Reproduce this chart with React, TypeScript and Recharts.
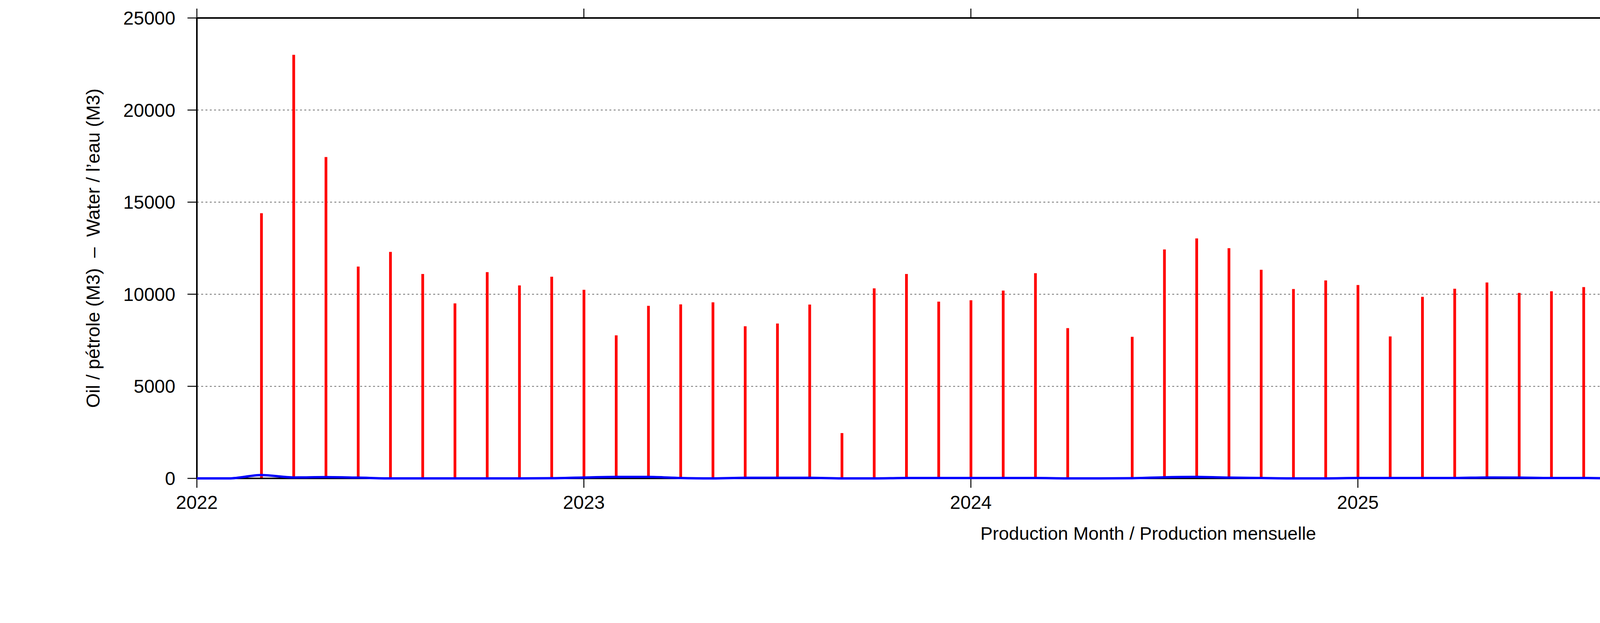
import React from "react";
import { ComposedChart, Bar, Line, XAxis, YAxis, CartesianGrid, Legend, Label } from "recharts";

// months counted from Jan 2022 (0) to Dec 2026 (59)
const monthIndex = Array.from({ length: 60 }, (_, i) => i);

// monthly oil production (M3), null = no production that month
const oilM3 = [
  null, null, 14400, 23000, 17450, 11500, 12300, 11100, 9500, 11200, 10480, 10950,
  10240, 7770, 9370, 9450, 9560, 8260, 8410, 9440, 2460, 10320, 11100, 9600,
  9670, 10200, 11140, 8160, null, 7690, 12430, 13030, 12500, 11330, 10280, 10750,
  10500, 7710, 9860, 10300, 10640, 10070, 10160, 10390, 10370, 8930, 8510, 6540,
  7220, 7670, 8510, 7770, 7050, 6500, null, null, null, null, null, null,
];

// monthly water production (M3)
const waterM3 = [
  0, 0, 180, 50, 70, 40, 0, 0, 0, 0, 0, 10,
  50, 80, 80, 20, 0, 30, 30, 30, 0, 0, 20, 20,
  20, 20, 20, 0, 0, 10, 60, 80, 40, 20, 0, 0,
  20, 20, 20, 20, 50, 40, 20, 20, 0, 0, 0, 0,
  20, 60, 50, 20, 20, 20, 0, 0, 0, 0, 0, 0,
];

const yearTicks = [0, 12, 24, 36, 48];
const yearLabels = ["2022", "2023", "2024", "2025", "2026"];
const yTicks = [0, 5000, 10000, 15000, 20000, 25000];

const legendItems = [
  { label: "oil / pétrole", color: "#ff0000" },
  { label: "water / l’eau", color: "#0000ff" },
];

const FONT = "'Liberation Sans', Arial, Helvetica, sans-serif";
const W = 5483;
const H = 1594;

const data = monthIndex.map((m, i) => ({ m, oil: oilM3[i], water: waterM3[i] }));

const LegendBox = () => (
  <div style={{ display: "flex", flexDirection: "column", alignItems: "flex-end", fontFamily: FONT, fontSize: 46, color: "#000" }}>
    {legendItems.map((it) => (
      <div key={it.label} style={{ display: "flex", alignItems: "center", height: 46, lineHeight: "46px" }}>
        <span>{it.label}</span>
        <span style={{ display: "inline-block", width: 137, height: 6, background: it.color, marginLeft: 29 }} />
      </div>
    ))}
  </div>
);

const App = () => {
  return (
    <div style={{ position: "absolute", left: 0, top: 0, background: "#fff" }}>
      <ComposedChart width={W} height={H} data={data} margin={{ top: 45, right: 0, bottom: 0, left: 0 }} style={{ fontFamily: FONT }}>
        <CartesianGrid vertical={false} stroke="#444" strokeWidth={1.5} strokeDasharray="5 6" />
        <XAxis
          dataKey="m"
          type="number"
          domain={[0, 59]}
          ticks={yearTicks}
          interval={0}
          allowDataOverflow
          tickFormatter={(v) => yearLabels[yearTicks.indexOf(v)]}
          height={370}
          tickSize={24}
          tickMargin={20}
          axisLine={{ stroke: "#000", strokeWidth: 4 }}
          tickLine={{ stroke: "#000", strokeWidth: 2.5 }}
          tick={{ fill: "#000", fontSize: 48, fontFamily: FONT }}
        >
          <Label
            content={({ viewBox }: any) => (
              <text x={viewBox.x + viewBox.width / 2} y={viewBox.y + 140} textAnchor="middle" dominantBaseline="central" fontSize={47} fontFamily={FONT} fill="#000">
                Production Month / Production mensuelle
              </text>
            )}
          />
        </XAxis>
        <XAxis
          xAxisId="top"
          orientation="top"
          type="number"
          dataKey="m"
          domain={[0, 59]}
          ticks={yearTicks}
          interval={0}
          allowDataOverflow
          height={1}
          tickFormatter={() => ""}
          tickSize={24}
          axisLine={{ stroke: "#000", strokeWidth: 4 }}
          tickLine={{ stroke: "#000", strokeWidth: 2.5 }}
        />
        <YAxis
          type="number"
          domain={[0, 25000]}
          ticks={yTicks}
          interval={0}
          width={504}
          tickSize={24}
          tickMargin={31}
          axisLine={{ stroke: "#000", strokeWidth: 4 }}
          tickLine={{ stroke: "#000", strokeWidth: 2.5 }}
          tick={{ fill: "#000", fontSize: 48, fontFamily: FONT }}
        >
          <Label
            content={({ viewBox }: any) => {
              const cx = 238;
              const cy = viewBox.y + viewBox.height / 2;
              return (
                <text x={cx} y={cy} transform={`rotate(-90 ${cx} ${cy})`} textAnchor="middle" dominantBaseline="central" fontSize={48} fontFamily={FONT} fill="#000" style={{ whiteSpace: "pre" }}>
                  {"Oil / pétrole (M3)  –  Water / l’eau (M3)"}
                </text>
              );
            }}
          />
        </YAxis>
        <YAxis
          yAxisId="right"
          orientation="right"
          type="number"
          domain={[0, 25000]}
          ticks={yTicks}
          interval={0}
          width={108}
          tickFormatter={() => ""}
          tickSize={24}
          axisLine={{ stroke: "#000", strokeWidth: 4 }}
          tickLine={{ stroke: "#000", strokeWidth: 2.5 }}
        />
        <Legend
          layout="horizontal"
          align="center"
          verticalAlign="middle"
          content={() => <LegendBox />}
          wrapperStyle={{ left: "auto", right: 162, top: 71, width: "auto", height: "auto" }}
        />
        <Bar dataKey="oil" fill="#ff0000" barSize={7} isAnimationActive={false} />
        <Line
          dataKey="water"
          type="monotone"
          stroke="#0000ff"
          strokeWidth={6}
          dot={false}
          activeDot={false}
          isAnimationActive={false}
          {...({ zIndex: 1000 } as any)}
        />
      </ComposedChart>
    </div>
  );
};

export default App;
